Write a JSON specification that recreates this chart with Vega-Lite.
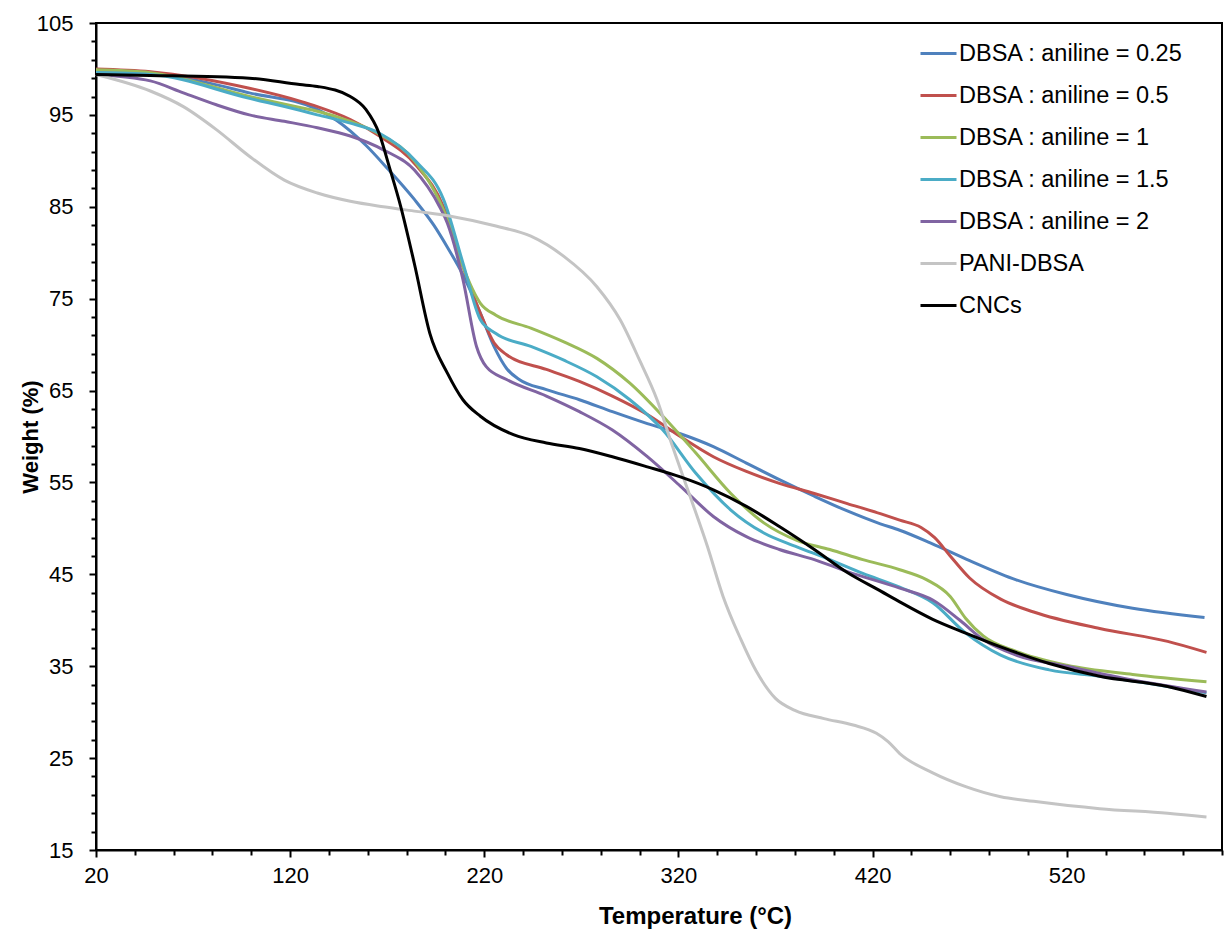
{
  "$schema": "https://vega.github.io/schema/vega-lite/v6.json",
  "width": 1126,
  "height": 827,
  "autosize": {"type": "none"},
  "padding": {"left": 96, "top": 23, "right": 3, "bottom": 90},
  "background": "white",
  "config": {"view": {"stroke": "black", "strokeWidth": 2}, "font": "Liberation Sans"},
  "data": {"values": [
    {"s":"DBSA : aniline = 0.25","t":20,"w":99.6},{"s":"DBSA : aniline = 0.25","t":48,"w":99.5},{"s":"DBSA : aniline = 0.25","t":73,"w":98.7},{"s":"DBSA : aniline = 0.25","t":99,"w":97.4},{"s":"DBSA : aniline = 0.25","t":134,"w":95.6},{"s":"DBSA : aniline = 0.25","t":144,"w":94.4},{"s":"DBSA : aniline = 0.25","t":159,"w":91.7},{"s":"DBSA : aniline = 0.25","t":170,"w":89.2},{"s":"DBSA : aniline = 0.25","t":184,"w":85.8},{"s":"DBSA : aniline = 0.25","t":194,"w":83.0},{"s":"DBSA : aniline = 0.25","t":201,"w":80.6},{"s":"DBSA : aniline = 0.25","t":209,"w":77.6},{"s":"DBSA : aniline = 0.25","t":218,"w":73.4},{"s":"DBSA : aniline = 0.25","t":225,"w":69.8},{"s":"DBSA : aniline = 0.25","t":231.5,"w":67.4},{"s":"DBSA : aniline = 0.25","t":238,"w":66.2},{"s":"DBSA : aniline = 0.25","t":252,"w":65.1},{"s":"DBSA : aniline = 0.25","t":269,"w":64.0},{"s":"DBSA : aniline = 0.25","t":286,"w":62.7},{"s":"DBSA : aniline = 0.25","t":304,"w":61.4},{"s":"DBSA : aniline = 0.25","t":321,"w":60.3},{"s":"DBSA : aniline = 0.25","t":338,"w":58.9},{"s":"DBSA : aniline = 0.25","t":355,"w":57.1},{"s":"DBSA : aniline = 0.25","t":372,"w":55.3},{"s":"DBSA : aniline = 0.25","t":390,"w":53.5},{"s":"DBSA : aniline = 0.25","t":407,"w":51.9},{"s":"DBSA : aniline = 0.25","t":424,"w":50.5},{"s":"DBSA : aniline = 0.25","t":434,"w":49.8},{"s":"DBSA : aniline = 0.25","t":450,"w":48.4},{"s":"DBSA : aniline = 0.25","t":470,"w":46.5},{"s":"DBSA : aniline = 0.25","t":494,"w":44.4},{"s":"DBSA : aniline = 0.25","t":520,"w":42.8},{"s":"DBSA : aniline = 0.25","t":554,"w":41.3},{"s":"DBSA : aniline = 0.25","t":591,"w":40.3},

    {"s":"DBSA : aniline = 0.5","t":20,"w":100.0},{"s":"DBSA : aniline = 0.5","t":48,"w":99.7},{"s":"DBSA : aniline = 0.5","t":99,"w":97.9},{"s":"DBSA : aniline = 0.5","t":125,"w":96.5},{"s":"DBSA : aniline = 0.5","t":134,"w":95.9},{"s":"DBSA : aniline = 0.5","t":151,"w":94.5},{"s":"DBSA : aniline = 0.5","t":166,"w":92.7},{"s":"DBSA : aniline = 0.5","t":185,"w":89.5},{"s":"DBSA : aniline = 0.5","t":199,"w":85.0},{"s":"DBSA : aniline = 0.5","t":209,"w":78.5},{"s":"DBSA : aniline = 0.5","t":218,"w":73.4},{"s":"DBSA : aniline = 0.5","t":225,"w":70.2},{"s":"DBSA : aniline = 0.5","t":231.5,"w":68.9},{"s":"DBSA : aniline = 0.5","t":252,"w":67.3},{"s":"DBSA : aniline = 0.5","t":269,"w":66.0},{"s":"DBSA : aniline = 0.5","t":286,"w":64.4},{"s":"DBSA : aniline = 0.5","t":304,"w":62.4},{"s":"DBSA : aniline = 0.5","t":321,"w":60.0},{"s":"DBSA : aniline = 0.5","t":338,"w":57.8},{"s":"DBSA : aniline = 0.5","t":355,"w":56.2},{"s":"DBSA : aniline = 0.5","t":372,"w":54.9},{"s":"DBSA : aniline = 0.5","t":390,"w":53.8},{"s":"DBSA : aniline = 0.5","t":407,"w":52.7},{"s":"DBSA : aniline = 0.5","t":424,"w":51.6},{"s":"DBSA : aniline = 0.5","t":434,"w":50.9},{"s":"DBSA : aniline = 0.5","t":445,"w":50.1},{"s":"DBSA : aniline = 0.5","t":452,"w":49.0},{"s":"DBSA : aniline = 0.5","t":460,"w":47.0},{"s":"DBSA : aniline = 0.5","t":470,"w":44.6},{"s":"DBSA : aniline = 0.5","t":486,"w":42.3},{"s":"DBSA : aniline = 0.5","t":503,"w":40.9},{"s":"DBSA : aniline = 0.5","t":537,"w":39.1},{"s":"DBSA : aniline = 0.5","t":572,"w":37.7},{"s":"DBSA : aniline = 0.5","t":592,"w":36.5},

    {"s":"DBSA : aniline = 1","t":20,"w":99.9},{"s":"DBSA : aniline = 1","t":48,"w":99.6},{"s":"DBSA : aniline = 1","t":99,"w":97.0},{"s":"DBSA : aniline = 1","t":125,"w":95.8},{"s":"DBSA : aniline = 1","t":134,"w":95.4},{"s":"DBSA : aniline = 1","t":151,"w":94.3},{"s":"DBSA : aniline = 1","t":166,"w":92.9},{"s":"DBSA : aniline = 1","t":184,"w":90.0},{"s":"DBSA : aniline = 1","t":201,"w":83.6},{"s":"DBSA : aniline = 1","t":209,"w":78.5},{"s":"DBSA : aniline = 1","t":218,"w":74.5},{"s":"DBSA : aniline = 1","t":226,"w":73.2},{"s":"DBSA : aniline = 1","t":244,"w":71.8},{"s":"DBSA : aniline = 1","t":261,"w":70.3},{"s":"DBSA : aniline = 1","t":278,"w":68.5},{"s":"DBSA : aniline = 1","t":295,"w":65.8},{"s":"DBSA : aniline = 1","t":312,"w":62.2},{"s":"DBSA : aniline = 1","t":329,"w":58.2},{"s":"DBSA : aniline = 1","t":347,"w":53.8},{"s":"DBSA : aniline = 1","t":364,"w":50.6},{"s":"DBSA : aniline = 1","t":381,"w":48.7},{"s":"DBSA : aniline = 1","t":398,"w":47.7},{"s":"DBSA : aniline = 1","t":415,"w":46.6},{"s":"DBSA : aniline = 1","t":434,"w":45.5},{"s":"DBSA : aniline = 1","t":448,"w":44.4},{"s":"DBSA : aniline = 1","t":460,"w":42.6},{"s":"DBSA : aniline = 1","t":468,"w":40.2},{"s":"DBSA : aniline = 1","t":477,"w":38.3},{"s":"DBSA : aniline = 1","t":494,"w":36.6},{"s":"DBSA : aniline = 1","t":520,"w":35.1},{"s":"DBSA : aniline = 1","t":554,"w":34.1},{"s":"DBSA : aniline = 1","t":592,"w":33.3},

    {"s":"DBSA : aniline = 1.5","t":20,"w":99.6},{"s":"DBSA : aniline = 1.5","t":48,"w":99.4},{"s":"DBSA : aniline = 1.5","t":99,"w":96.8},{"s":"DBSA : aniline = 1.5","t":125,"w":95.5},{"s":"DBSA : aniline = 1.5","t":134,"w":95.0},{"s":"DBSA : aniline = 1.5","t":151,"w":94.1},{"s":"DBSA : aniline = 1.5","t":166,"w":93.0},{"s":"DBSA : aniline = 1.5","t":185,"w":89.9},{"s":"DBSA : aniline = 1.5","t":199,"w":85.8},{"s":"DBSA : aniline = 1.5","t":209,"w":78.9},{"s":"DBSA : aniline = 1.5","t":218,"w":72.7},{"s":"DBSA : aniline = 1.5","t":226,"w":71.2},{"s":"DBSA : aniline = 1.5","t":244,"w":69.8},{"s":"DBSA : aniline = 1.5","t":261,"w":68.3},{"s":"DBSA : aniline = 1.5","t":278,"w":66.5},{"s":"DBSA : aniline = 1.5","t":295,"w":64.0},{"s":"DBSA : aniline = 1.5","t":312,"w":60.7},{"s":"DBSA : aniline = 1.5","t":329,"w":56.0},{"s":"DBSA : aniline = 1.5","t":347,"w":52.0},{"s":"DBSA : aniline = 1.5","t":364,"w":49.5},{"s":"DBSA : aniline = 1.5","t":381,"w":48.0},{"s":"DBSA : aniline = 1.5","t":398,"w":46.6},{"s":"DBSA : aniline = 1.5","t":415,"w":45.1},{"s":"DBSA : aniline = 1.5","t":434,"w":43.6},{"s":"DBSA : aniline = 1.5","t":451,"w":41.9},{"s":"DBSA : aniline = 1.5","t":468,"w":38.6},{"s":"DBSA : aniline = 1.5","t":486,"w":36.2},{"s":"DBSA : aniline = 1.5","t":511,"w":34.6},{"s":"DBSA : aniline = 1.5","t":537,"w":33.9},{"s":"DBSA : aniline = 1.5","t":572,"w":32.8},{"s":"DBSA : aniline = 1.5","t":592,"w":32.1},

    {"s":"DBSA : aniline = 2","t":20,"w":99.4},{"s":"DBSA : aniline = 2","t":48,"w":98.7},{"s":"DBSA : aniline = 2","t":65,"w":97.4},{"s":"DBSA : aniline = 2","t":82,"w":96.1},{"s":"DBSA : aniline = 2","t":99,"w":95.0},{"s":"DBSA : aniline = 2","t":117,"w":94.3},{"s":"DBSA : aniline = 2","t":134,"w":93.6},{"s":"DBSA : aniline = 2","t":151,"w":92.7},{"s":"DBSA : aniline = 2","t":168,"w":91.2},{"s":"DBSA : aniline = 2","t":184,"w":89.0},{"s":"DBSA : aniline = 2","t":197,"w":85.0},{"s":"DBSA : aniline = 2","t":201,"w":83.2},{"s":"DBSA : aniline = 2","t":209,"w":77.1},{"s":"DBSA : aniline = 2","t":216,"w":69.8},{"s":"DBSA : aniline = 2","t":221,"w":67.6},{"s":"DBSA : aniline = 2","t":231.5,"w":66.2},{"s":"DBSA : aniline = 2","t":252,"w":64.4},{"s":"DBSA : aniline = 2","t":269,"w":62.7},{"s":"DBSA : aniline = 2","t":286,"w":60.7},{"s":"DBSA : aniline = 2","t":304,"w":57.8},{"s":"DBSA : aniline = 2","t":321,"w":54.6},{"s":"DBSA : aniline = 2","t":338,"w":51.3},{"s":"DBSA : aniline = 2","t":355,"w":49.1},{"s":"DBSA : aniline = 2","t":372,"w":47.7},{"s":"DBSA : aniline = 2","t":390,"w":46.6},{"s":"DBSA : aniline = 2","t":407,"w":45.3},{"s":"DBSA : aniline = 2","t":434,"w":43.5},{"s":"DBSA : aniline = 2","t":451,"w":42.2},{"s":"DBSA : aniline = 2","t":465,"w":40.0},{"s":"DBSA : aniline = 2","t":477,"w":37.9},{"s":"DBSA : aniline = 2","t":494,"w":36.2},{"s":"DBSA : aniline = 2","t":520,"w":35.0},{"s":"DBSA : aniline = 2","t":554,"w":33.5},{"s":"DBSA : aniline = 2","t":592,"w":32.2},

    {"s":"PANI-DBSA","t":20,"w":99.4},{"s":"PANI-DBSA","t":48,"w":97.6},{"s":"PANI-DBSA","t":65,"w":95.9},{"s":"PANI-DBSA","t":82,"w":93.4},{"s":"PANI-DBSA","t":99,"w":90.5},{"s":"PANI-DBSA","t":117,"w":87.9},{"s":"PANI-DBSA","t":134,"w":86.5},{"s":"PANI-DBSA","t":151,"w":85.6},{"s":"PANI-DBSA","t":168,"w":85.0},{"s":"PANI-DBSA","t":185,"w":84.5},{"s":"PANI-DBSA","t":202,"w":84.0},{"s":"PANI-DBSA","t":226,"w":82.9},{"s":"PANI-DBSA","t":244,"w":81.8},{"s":"PANI-DBSA","t":261,"w":79.6},{"s":"PANI-DBSA","t":278,"w":76.3},{"s":"PANI-DBSA","t":290,"w":72.7},{"s":"PANI-DBSA","t":300,"w":68.3},{"s":"PANI-DBSA","t":309,"w":64.0},{"s":"PANI-DBSA","t":317,"w":58.9},{"s":"PANI-DBSA","t":326,"w":53.5},{"s":"PANI-DBSA","t":335,"w":48.0},{"s":"PANI-DBSA","t":343,"w":42.6},{"s":"PANI-DBSA","t":352,"w":38.0},{"s":"PANI-DBSA","t":360,"w":34.5},{"s":"PANI-DBSA","t":370,"w":31.5},{"s":"PANI-DBSA","t":380,"w":30.2},{"s":"PANI-DBSA","t":395,"w":29.3},{"s":"PANI-DBSA","t":410,"w":28.6},{"s":"PANI-DBSA","t":422,"w":27.7},{"s":"PANI-DBSA","t":428,"w":26.8},{"s":"PANI-DBSA","t":434,"w":25.5},{"s":"PANI-DBSA","t":451,"w":23.4},{"s":"PANI-DBSA","t":468,"w":21.9},{"s":"PANI-DBSA","t":486,"w":20.8},{"s":"PANI-DBSA","t":503,"w":20.3},{"s":"PANI-DBSA","t":537,"w":19.5},{"s":"PANI-DBSA","t":572,"w":19.0},{"s":"PANI-DBSA","t":592,"w":18.6},

    {"s":"CNCs","t":20,"w":99.4},{"s":"CNCs","t":48,"w":99.3},{"s":"CNCs","t":99,"w":99.0},{"s":"CNCs","t":125,"w":98.3},{"s":"CNCs","t":134,"w":98.1},{"s":"CNCs","t":151,"w":97.0},{"s":"CNCs","t":159,"w":95.6},{"s":"CNCs","t":166,"w":92.9},{"s":"CNCs","t":171,"w":89.4},{"s":"CNCs","t":177,"w":85.0},{"s":"CNCs","t":184,"w":78.8},{"s":"CNCs","t":192,"w":71.2},{"s":"CNCs","t":201,"w":66.9},{"s":"CNCs","t":209,"w":64.0},{"s":"CNCs","t":218,"w":62.2},{"s":"CNCs","t":235,"w":60.2},{"s":"CNCs","t":252,"w":59.3},{"s":"CNCs","t":269,"w":58.7},{"s":"CNCs","t":286,"w":57.8},{"s":"CNCs","t":304,"w":56.7},{"s":"CNCs","t":321,"w":55.6},{"s":"CNCs","t":338,"w":54.2},{"s":"CNCs","t":355,"w":52.4},{"s":"CNCs","t":372,"w":50.2},{"s":"CNCs","t":390,"w":47.7},{"s":"CNCs","t":407,"w":45.2},{"s":"CNCs","t":424,"w":43.2},{"s":"CNCs","t":434,"w":42.0},{"s":"CNCs","t":451,"w":40.1},{"s":"CNCs","t":468,"w":38.6},{"s":"CNCs","t":486,"w":37.1},{"s":"CNCs","t":511,"w":35.3},{"s":"CNCs","t":537,"w":33.9},{"s":"CNCs","t":572,"w":32.8},{"s":"CNCs","t":592,"w":31.7}
  ]},
  "mark": {"type": "line", "interpolate": "monotone", "strokeWidth": 3},
  "encoding": {
    "x": {
      "field": "t", "type": "quantitative",
      "scale": {"domain": [20, 600], "nice": false, "zero": false},
      "axis": {
        "title": "Temperature (°C)",
        "values": [20,40,60,80,100,120,140,160,180,200,220,240,260,280,300,320,340,360,380,400,420,440,460,480,500,520,540,560,580,600],
        "labelExpr": "(datum.value - 20) % 100 === 0 ? datum.label : ''",
        "format": "d",
        "labelOverlap": false, "labelFlush": false, "labelBound": false,
        "labelFontSize": 22, "labelColor": "black", "labelPadding": 8,
        "tickSize": {"condition": {"test": "(datum.value - 20) % 100 === 0", "value": 7}, "value": 5},
        "tickColor": "black", "tickWidth": 2,
        "domainColor": "black", "domainWidth": 2, "grid": false,
        "titleFontSize": 24, "titleFontWeight": "bold", "titleColor": "black",
        "titleX": 599, "titleY": 66, "titleAlign": "center", "titleBaseline": "middle"
      }
    },
    "y": {
      "field": "w", "type": "quantitative",
      "scale": {"domain": [15, 105], "nice": false, "zero": false},
      "axis": {
        "title": "Weight (%)",
        "values": [15,17,19,21,23,25,27,29,31,33,35,37,39,41,43,45,47,49,51,53,55,57,59,61,63,65,67,69,71,73,75,77,79,81,83,85,87,89,91,93,95,97,99,101,103,105],
        "labelExpr": "(datum.value - 15) % 10 === 0 ? datum.label : ''",
        "format": "d",
        "labelOverlap": false, "labelFlush": false, "labelBound": false,
        "labelFontSize": 22, "labelColor": "black", "labelPadding": 16,
        "tickSize": {"condition": {"test": "(datum.value - 15) % 10 === 0", "value": 7}, "value": 5},
        "tickColor": "black", "tickWidth": 2,
        "domainColor": "black", "domainWidth": 2, "grid": false,
        "titleFontSize": 22, "titleFontWeight": "bold", "titleColor": "black",
        "titleX": -66, "titleY": 413.5, "titleAngle": -90, "titleAlign": "center", "titleBaseline": "middle"
      }
    },
    "color": {
      "field": "s", "type": "nominal",
      "scale": {
        "domain": ["DBSA : aniline = 0.25","DBSA : aniline = 0.5","DBSA : aniline = 1","DBSA : aniline = 1.5","DBSA : aniline = 2","PANI-DBSA","CNCs"],
        "range": ["#4F81BD","#C0504D","#9BBB59","#4BACC6","#8064A2","#C4C4C4","#000000"]
      },
      "legend": {
        "title": null, "orient": "none", "legendX": 823, "legendY": 11,
        "symbolType": "stroke", "symbolSize": 1296, "symbolStrokeWidth": 3,
        "labelFontSize": 23.5, "labelColor": "black", "labelOffset": 1,
        "rowPadding": 11, "padding": 0, "labelLimit": 400
      }
    }
  }
}
